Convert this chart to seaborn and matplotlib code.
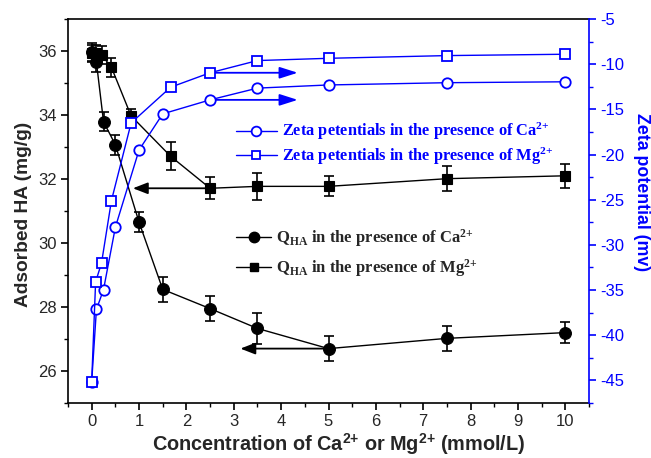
import numpy as np
import pandas as pd
import matplotlib
matplotlib.use("Agg")
import matplotlib.pyplot as plt
from matplotlib.lines import Line2D
from matplotlib.ticker import MultipleLocator
import seaborn as sns

# Concentrations (mmol/L)
conc_ca = [0, 0.1, 0.25, 0.5, 1, 1.5, 2.5, 3.5, 5, 7.5, 10]
conc_mg = [0, 0.083, 0.208, 0.417, 0.833, 1.667, 2.5, 3.5, 5, 7.5, 10]

# Adsorbed HA (mg/g) and standard deviations
q_ca = [35.96, 35.65, 33.79, 33.07, 30.65, 28.55, 27.95, 27.33, 26.70, 27.02, 27.20]
q_ca_err = [0.30, 0.30, 0.29, 0.31, 0.32, 0.40, 0.40, 0.48, 0.40, 0.40, 0.33]
q_mg = [35.95, 35.95, 35.88, 35.49, 33.97, 32.71, 31.71, 31.77, 31.77, 32.01, 32.10]
q_mg_err = [0.25, 0.25, 0.28, 0.30, 0.23, 0.44, 0.34, 0.42, 0.31, 0.40, 0.38]

# Zeta potentials (mV)
zeta_ca = [-45.15, -37.15, -34.95, -28.05, -19.5, -15.5, -13.95, -12.65, -12.3, -12.05, -11.95]
zeta_mg = [-45.15, -34.1, -32.0, -25.1, -16.5, -12.55, -10.95, -9.6, -9.35, -9.05, -8.9]

x_ticks = list(range(0, 11))
q_ticks = [26, 28, 30, 32, 34, 36]
zeta_ticks = [-45, -40, -35, -30, -25, -20, -15, -10, -5]

sns.set_style("white")
plt.rcParams["font.family"] = ["Liberation Sans", "DejaVu Sans"]
plt.rcParams["xtick.direction"] = "out"
plt.rcParams["ytick.direction"] = "out"
plt.rcParams["axes.unicode_minus"] = False

BLUE = "#0000ff"
SERIF = ["Liberation Serif", "DejaVu Serif"]
SUP = r"$\mathregular{^{2{+}}}$"

fig = plt.figure(figsize=(6.51, 4.58), dpi=100)
ax = fig.add_axes([68 / 651, 1 - 403 / 458, (589 - 68) / 651, (403 - 19) / 458])
ax2 = ax.twinx()

# Adsorption curves (left axis)
ax.errorbar(conc_ca, q_ca, yerr=q_ca_err, fmt="none", ecolor="black",
            elinewidth=1.2, capsize=3.5, capthick=1.2, zorder=3)
ax.errorbar(conc_mg, q_mg, yerr=q_mg_err, fmt="none", ecolor="black",
            elinewidth=1.2, capsize=3.5, capthick=1.2, zorder=3)
sns.lineplot(x=conc_ca, y=q_ca, color="black", marker="o", markersize=8.5,
             markeredgecolor="black", markeredgewidth=0.8, linewidth=1.0,
             estimator=None, sort=False, ax=ax, zorder=4)
sns.lineplot(x=conc_mg, y=q_mg, color="black", marker="s", markersize=7.5,
             markeredgecolor="black", markeredgewidth=0.8, linewidth=1.0,
             estimator=None, sort=False, ax=ax, zorder=4)

# Zeta potential curves (right axis)
sns.lineplot(x=conc_ca, y=zeta_ca, color=BLUE, marker="o", markersize=7.5,
             markerfacecolor="white", markeredgecolor=BLUE, markeredgewidth=1.3,
             linewidth=1.0, estimator=None, sort=False, ax=ax2, zorder=4)
sns.lineplot(x=conc_mg, y=zeta_mg, color=BLUE, marker="s", markersize=7,
             markerfacecolor="white", markeredgecolor=BLUE, markeredgewidth=1.3,
             linewidth=1.0, estimator=None, sort=False, ax=ax2, zorder=4)

# Arrows pointing to the relevant axes
arrow_black = dict(arrowstyle="-|>,head_length=0.9,head_width=0.35",
                   color="black", lw=1.3, shrinkA=0, shrinkB=0)
ax.annotate("", xy=(0.87, q_mg[6]), xytext=(conc_mg[6], q_mg[6]),
            arrowprops=arrow_black, zorder=2)
ax.annotate("", xy=(3.14, q_ca[8]), xytext=(conc_ca[8], q_ca[8]),
            arrowprops=arrow_black, zorder=2)
arrow_blue = dict(arrowstyle="-|>,head_length=1.1,head_width=0.35",
                  color=BLUE, lw=1.3, shrinkA=0, shrinkB=0)
ax2.annotate("", xy=(4.35, zeta_mg[6]), xytext=(conc_mg[6], zeta_mg[6]),
             arrowprops=arrow_blue)
ax2.annotate("", xy=(4.35, zeta_ca[6]), xytext=(conc_ca[6], zeta_ca[6]),
             arrowprops=arrow_blue)

# Axes limits and ticks
ax.set_xlim(-0.5, 10.5)
ax.set_ylim(25, 37)
ax2.set_ylim(-47.5, -5)
ax.set_xticks(x_ticks)
ax.xaxis.set_minor_locator(MultipleLocator(0.5))
ax.set_yticks(q_ticks)
ax.yaxis.set_minor_locator(MultipleLocator(1))
ax2.set_yticks(zeta_ticks)
ax2.yaxis.set_minor_locator(MultipleLocator(2.5))

ax.tick_params(axis="both", which="major", length=5, width=1.2,
               labelsize=12, color="black", pad=3)
ax.tick_params(axis="both", which="minor", length=3, width=1.0, color="black")
ax.tick_params(axis="y", which="both", left=True, right=False)
ax.tick_params(axis="x", which="both", bottom=True, top=False)
ax2.tick_params(axis="y", which="major", length=5, width=1.2, labelsize=12,
                color=BLUE, labelcolor=BLUE, right=True, pad=3)
ax2.tick_params(axis="y", which="minor", length=3, width=1.0, color=BLUE, right=True)

for side in ["left", "top", "bottom"]:
    ax.spines[side].set_color("black")
    ax.spines[side].set_linewidth(1.2)
    ax2.spines[side].set_visible(False)
ax.spines["right"].set_visible(False)
ax2.spines["right"].set_color(BLUE)
ax2.spines["right"].set_linewidth(1.2)

ax.set_xlabel("Concentration of Ca" + SUP + " or Mg" + SUP + " (mmol/L)",
              fontsize=14.3, fontweight="bold")
ax.xaxis.set_label_coords(0.52, -0.074)
ax.set_ylabel("Adsorbed HA (mg/g)", fontsize=13.8, fontweight="bold")
ax.yaxis.set_label_coords(-0.07, 0.49)
ax2.set_ylabel("Zeta potential (mv)", fontsize=12.8, fontweight="bold",
               color=BLUE, rotation=270, va="center")
ax2.yaxis.set_label_coords(1.1, 0.55)

# Legends
zeta_handles = [
    Line2D([], [], color=BLUE, lw=1.0, marker="o", markersize=7,
           markerfacecolor="white", markeredgecolor=BLUE, markeredgewidth=1.3),
    Line2D([], [], color=BLUE, lw=1.0, marker="s", markersize=6,
           markerfacecolor="white", markeredgecolor=BLUE, markeredgewidth=1.3),
]
zeta_labels = ["Zeta petentials in the presence of Ca" + SUP,
               "Zeta petentials in the presence of Mg" + SUP]
leg1 = ax2.legend(zeta_handles, zeta_labels, loc="upper left",
                  bbox_to_anchor=(236 / 651, 1 - 121 / 458),
                  bbox_transform=fig.transFigure, frameon=False,
                  borderpad=0, borderaxespad=0, handlelength=2.5,
                  handletextpad=0.3, labelspacing=0.18,
                  prop={"family": SERIF, "weight": "bold", "size": 11.8},
                  labelcolor=BLUE)
q_handles = [
    Line2D([], [], color="black", lw=1.0, marker="o", markersize=7.5),
    Line2D([], [], color="black", lw=1.0, marker="s", markersize=6),
]
q_labels = [r"Q$\mathregular{_{HA}}$ in the presence of Ca" + SUP,
            r"Q$\mathregular{_{HA}}$ in the presence of Mg" + SUP]
leg2 = ax2.legend(q_handles, q_labels, loc="upper left",
                  bbox_to_anchor=(236 / 651, 1 - 227 / 458),
                  bbox_transform=fig.transFigure, frameon=False,
                  borderpad=0, borderaxespad=0, handlelength=2.1,
                  handletextpad=0.3, labelspacing=0.5,
                  prop={"family": SERIF, "weight": "bold", "size": 12})
ax2.add_artist(leg1)

fig.savefig("out.png", dpi=100)
